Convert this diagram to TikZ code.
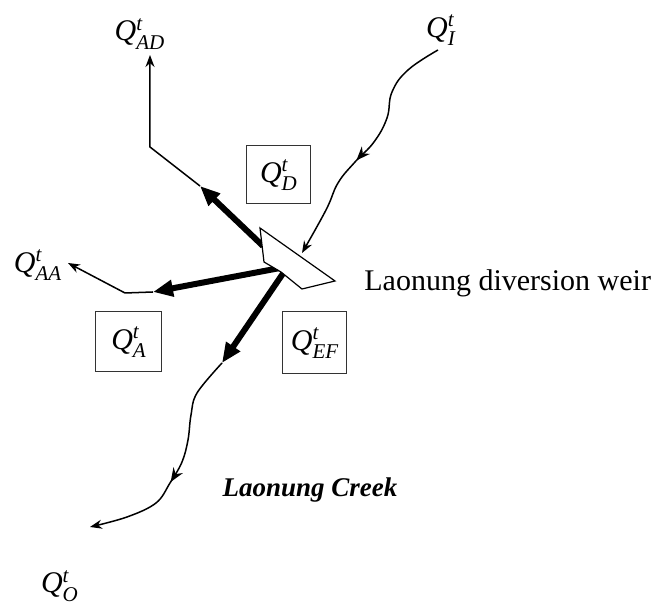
\documentclass[tikz,border=0pt]{standalone}
\usepackage{amsmath}
\usepackage{fontspec}
\setmainfont{Liberation Serif}
\usetikzlibrary{arrows.meta,decorations.markings}
\newcommand{\flowQ}[1]{\textit{Q}$^{\textit{t}}_{\textit{#1}}$}

\begin{document}
\begin{tikzpicture}[
  x=0.5pt, y=-0.5pt,
  >=Stealth,
  every node/.style={font=\fontsize{15}{18}\selectfont, inner sep=1pt},
  flowbox/.style={draw=black!80, line width=0.5pt, minimum width=32pt, minimum height=29pt, inner sep=0pt},
  diverted/.style={line width=3pt, -{Triangle[length=10pt,width=8pt]}},
  branch/.style={line width=0.75pt, -{Stealth[length=6pt,width=4.5pt]}},
  midtip/.style={decoration={markings, mark=at position #1 with {\arrow{Stealth[length=7pt,width=5.5pt]}}}, postaction={decorate}},
  weirshape/.style={draw, line width=0.6pt, fill=white, line join=miter}
]
  \useasboundingbox (0,0) rectangle (661,603);

  % flow labels
  \node (qAD) at (140,34) {\flowQ{AD}};
  \node (qI) at (441,30) {\flowQ{I}};
  \node (qAA) at (38,265) {\flowQ{AA}};
  \node (qO) at (60,586) {\flowQ{O}};
  \node[flowbox] (boxD) at (279,175) {\flowQ{D}};
  \node[flowbox, minimum width=33pt, minimum height=30pt] (boxA) at (129,342) {\flowQ{A}};
  \node[flowbox, minimum height=31pt] (boxEF) at (315,343) {\flowQ{EF}};

  % weir and branch points
  \coordinate (wTop) at (260,228);
  \coordinate (wTip) at (335,281);
  \coordinate (wBot) at (302,289);
  \coordinate (wNotch) at (281,272);
  \coordinate (wLeft) at (264,262);
  \coordinate (inEnd) at (302,253);
  \coordinate (inStart) at (438,50);
  \coordinate (dHead) at (200,186);
  \coordinate (dBend) at (150,147);
  \coordinate (dEnd) at (150,55);
  \coordinate (aHead) at (153,292);
  \coordinate (aBend) at (125,293);
  \coordinate (aEnd) at (68,263);
  \coordinate (oHead) at (222,363);
  \coordinate (oEnd) at (90,527);

  % diverted flows
  \draw[diverted] (263,246) -- (dHead);
  \draw[branch] (dHead) -- (dBend) -- (dEnd);
  \draw[diverted] (280,268) -- (aHead);
  \draw[branch] (aHead) -- (aBend) -- (aEnd);
  \draw[diverted] (284,272) -- (oHead);

  % creek
  \draw[branch, midtip=0.57] plot[smooth, tension=0.7] coordinates {(inStart) (408,70) (392,92) (387,118) (374,142) (355,162) (338,183) (326,210) (inEnd)};
  \draw[branch, midtip=0.58] plot[smooth, tension=0.6] coordinates {(oHead) (197,393) (191,415) (188,440) (182,462) (170,483) (156,503) (127,517) (oEnd)};

  \draw[weirshape] (wTop) -- (wTip) -- (wBot) -- (wNotch) -- (wLeft) -- cycle;

  \node[anchor=west] (weirlabel) at (362,283) {Laonung diversion weir};
  \node[font=\fontsize{13.5}{16}\selectfont\bfseries\itshape] (creek) at (310,490) {Laonung Creek};
\end{tikzpicture}
\end{document}
